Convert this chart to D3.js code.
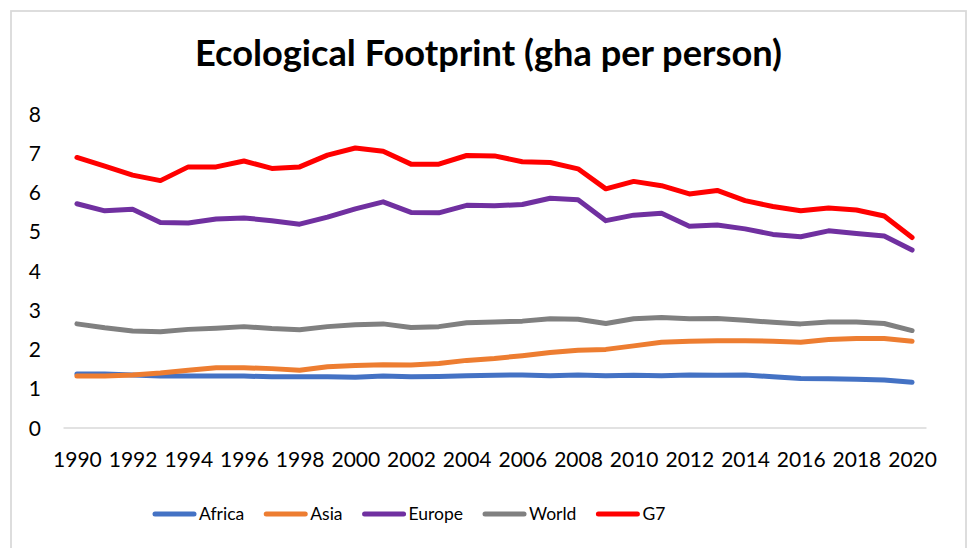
<!DOCTYPE html>
<html>
<head>
<meta charset="utf-8">
<script src="https://cdn.jsdelivr.net/npm/d3@7"></script>
<style>
  html, body { margin: 0; padding: 0; background: #fff; }
  svg { display: block; font-family: Lato, "Open Sans", sans-serif; }
</style>
</head>
<body>
<div id="chart"></div>
<script>
const years = [1990, 1991, 1992, 1993, 1994, 1995, 1996, 1997, 1998, 1999,
  2000, 2001, 2002, 2003, 2004, 2005, 2006, 2007, 2008, 2009,
  2010, 2011, 2012, 2013, 2014, 2015, 2016, 2017, 2018, 2019, 2020];

const africa = [1.36, 1.36, 1.34, 1.31, 1.31, 1.31, 1.31, 1.29, 1.29, 1.29,
  1.28, 1.31, 1.29, 1.30, 1.32, 1.33, 1.34, 1.32, 1.34, 1.32,
  1.33, 1.32, 1.34, 1.33, 1.34, 1.29, 1.25, 1.24, 1.23, 1.21, 1.15];
const asia = [1.31, 1.31, 1.34, 1.39, 1.46, 1.52, 1.52, 1.50, 1.46, 1.55,
  1.58, 1.60, 1.59, 1.63, 1.71, 1.76, 1.83, 1.91, 1.97, 1.99,
  2.08, 2.17, 2.20, 2.21, 2.21, 2.20, 2.17, 2.24, 2.27, 2.27, 2.20];
const europe = [5.70, 5.52, 5.56, 5.22, 5.21, 5.31, 5.34, 5.27, 5.18, 5.36,
  5.57, 5.75, 5.48, 5.47, 5.66, 5.65, 5.68, 5.84, 5.80, 5.27,
  5.41, 5.46, 5.13, 5.16, 5.06, 4.92, 4.86, 5.01, 4.94, 4.88, 4.52];
const world = [2.64, 2.54, 2.46, 2.44, 2.50, 2.53, 2.57, 2.52, 2.49, 2.57,
  2.62, 2.64, 2.55, 2.57, 2.67, 2.69, 2.71, 2.77, 2.76, 2.65,
  2.77, 2.80, 2.77, 2.78, 2.73, 2.68, 2.64, 2.69, 2.69, 2.65, 2.47];
const g7 = [6.88, 6.66, 6.43, 6.29, 6.64, 6.64, 6.79, 6.60, 6.64, 6.94,
  7.12, 7.04, 6.71, 6.71, 6.93, 6.92, 6.77, 6.75, 6.59, 6.08,
  6.27, 6.16, 5.95, 6.04, 5.78, 5.63, 5.52, 5.59, 5.54, 5.39, 4.84];

const seriesNames = ['Africa', 'Asia', 'Europe', 'World', 'G7'];
const seriesColors = ['#4472C4', '#ED7D31', '#7030A0', '#808080', '#FF0000'];
const yTicks = [0, 1, 2, 3, 4, 5, 6, 7, 8];
const xTickLabels = [1990, 1992, 1994, 1996, 1998, 2000, 2002, 2004, 2006, 2008,
  2010, 2012, 2014, 2016, 2018, 2020];
const title = 'Ecological Footprint (gha per person)';

const series = [africa, asia, europe, world, g7].map((values, i) => ({
  name: seriesNames[i],
  color: seriesColors[i],
  values: values.map((v, j) => ({ year: years[j], value: v }))
}));

const W = 968, H = 548;
const plot = { left: 63, right: 926, top: 113.5, bottom: 427.5 };

const svg = d3.select('#chart')
  .append('svg')
  .attr('width', W)
  .attr('height', H)
  .attr('viewBox', `0 0 ${W} ${H}`);

// Chart frame
svg.append('rect')
  .attr('x', 11)
  .attr('y', 11)
  .attr('width', 955)
  .attr('height', 560)
  .attr('fill', 'none')
  .attr('stroke', '#d9d9d9')
  .attr('stroke-width', 1.75);

// Title, sized to the reference width
const titleText = svg.append('text')
  .attr('x', 488.5)
  .attr('y', 66)
  .attr('text-anchor', 'middle')
  .attr('font-weight', 700)
  .attr('font-size', 32)
  .attr('fill', '#000')
  .text(title);
const tw = titleText.node().getComputedTextLength();
titleText.attr('font-size', 32 * 587 / tw);

const x = d3.scalePoint()
  .domain(years)
  .range([plot.left, plot.right])
  .padding(0.5);

const y = d3.scaleLinear()
  .domain([0, 8])
  .range([plot.bottom, plot.top]);

// Y axis labels (no axis line)
const yAxis = svg.append('g')
  .attr('transform', `translate(${plot.left - 22},0)`)
  .call(d3.axisLeft(y).tickValues(yTicks).tickSize(0).tickPadding(0).tickFormat(d3.format('d')));
yAxis.select('.domain').remove();
yAxis.selectAll('text')
  .attr('font-family', 'Lato, "Open Sans", sans-serif')
  .attr('font-size', 21)
  .attr('fill', '#000')
  .attr('dy', '0.36em');

// X axis: baseline + year labels
const xAxis = svg.append('g')
  .attr('transform', `translate(0,${plot.bottom})`)
  .call(d3.axisBottom(x).tickValues(xTickLabels).tickSize(0).tickPadding(0));
xAxis.select('.domain')
  .attr('stroke', '#d9d9d9')
  .attr('stroke-width', 1.5);
xAxis.selectAll('text')
  .attr('font-family', 'Lato, "Open Sans", sans-serif')
  .attr('font-size', 21)
  .attr('fill', '#000')
  .attr('y', 39.5)
  .attr('dy', 0);

// Lines
const line = d3.line()
  .x(d => x(d.year))
  .y(d => y(d.value));

svg.append('g')
  .selectAll('path')
  .data(series)
  .join('path')
  .attr('d', d => line(d.values))
  .attr('fill', 'none')
  .attr('stroke', d => d.color)
  .attr('stroke-width', 5)
  .attr('stroke-linejoin', 'round')
  .attr('stroke-linecap', 'round');

// Legend
const legend = svg.append('g').attr('transform', 'translate(0,514)');
let lx = 153;
series.forEach(s => {
  const item = legend.append('g').attr('transform', `translate(${lx},0)`);
  item.append('line')
    .attr('x1', 2).attr('x2', 41)
    .attr('y1', 0).attr('y2', 0)
    .attr('stroke', s.color)
    .attr('stroke-width', 5)
    .attr('stroke-linecap', 'round');
  const t = item.append('text')
    .attr('x', 46)
    .attr('y', 0)
    .attr('dy', '0.36em')
    .attr('font-size', 17.5)
    .attr('fill', '#000')
    .text(s.name);
  lx += 46 + t.node().getComputedTextLength() + 20;
});
</script>
</body>
</html>
